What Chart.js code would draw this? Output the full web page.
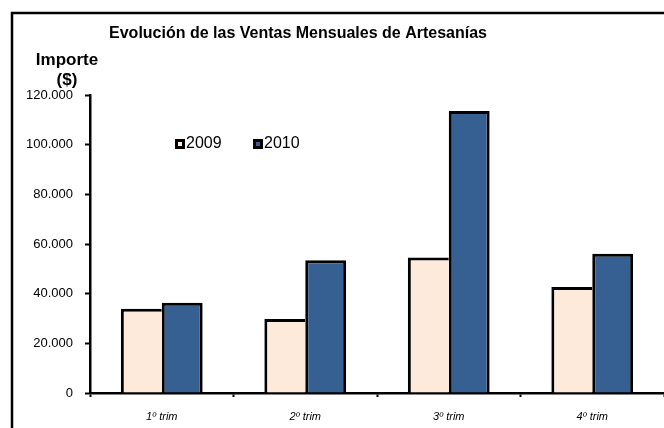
<!DOCTYPE html>
<html>
<head>
<meta charset="utf-8">
<script src="https://cdn.jsdelivr.net/npm/chart.js@4/dist/chart.umd.min.js"></script>
<style>
  html, body { margin: 0; padding: 0; background: #fff; }
  #wrap { width: 664px; height: 428px; }
</style>
</head>
<body>
<div id="wrap"><canvas id="ventas"></canvas></div>
<script>
var trimestres = ['1º trim', '2º trim', '3º trim', '4º trim'];
var ventas2009 = [33900, 29800, 54600, 42700];
var ventas2010 = [36300, 53500, 113600, 56100];
var seriesLabels = ['2009', '2010'];
var yTicks = [0, 20000, 40000, 60000, 80000, 100000, 120000];

var colors = {
  beige: '#FDEADA',
  blue: '#376092',
  black: '#000'
};

function miles(v) {
  return String(v).replace(/\B(?=(\d{3})+(?!\d))/g, '.');
}

// frame, title, axis caption and the floating legend
var decor = {
  id: 'decor',
  beforeDraw: function(chart) {
    var ctx = chart.ctx;
    ctx.save();
    ctx.strokeStyle = colors.black;
    ctx.lineWidth = 2.5;
    ctx.beginPath();
    ctx.moveTo(12, 428);
    ctx.lineTo(12, 13);
    ctx.lineTo(664, 13);
    ctx.stroke();
    ctx.restore();
  },
  afterDraw: function(chart) {
    var ctx = chart.ctx;
    ctx.save();
    ctx.fillStyle = colors.black;
    ctx.textAlign = 'center';
    ctx.textBaseline = 'middle';
    ctx.font = 'bold 16px "Liberation Sans", Arial, sans-serif';
    ctx.fillText('Evolución de las Ventas Mensuales de Artesanías', 298, 34);
    ctx.font = 'bold 17px "Liberation Sans", Arial, sans-serif';
    ctx.fillText('Importe', 67, 60);
    ctx.fillText('($)', 67, 80);

    // legend
    var pos = [175, 253];
    ctx.font = '16px "Liberation Sans", Arial, sans-serif';
    ctx.textAlign = 'left';
    chart.data.datasets.forEach(function(ds, i) {
      var x = pos[i], y = 139;
      ctx.fillStyle = colors.black;
      ctx.fillRect(x, y, 10, 10);
      ctx.fillStyle = ds.backgroundColor;
      ctx.fillRect(x + 3, y + 3, 4, 4);
      ctx.fillStyle = colors.black;
      ctx.fillText(ds.label, x + 11, y + 5);
    });
    ctx.restore();
  }
};

var config = {
  type: 'bar',
  data: {
    labels: trimestres,
    datasets: [{
      label: seriesLabels[0],
      data: ventas2009,
      backgroundColor: colors.beige,
      borderColor: colors.black,
      borderWidth: { left: 3, top: 3, right: 0, bottom: 0 }
    }, {
      label: seriesLabels[1],
      data: ventas2010,
      backgroundColor: colors.blue,
      borderColor: colors.black,
      borderWidth: 3
    }]
  },
  options: {
    responsive: true,
    maintainAspectRatio: false,
    animation: false,
    layout: {
      padding: { top: 95, left: 0, right: 0, bottom: 0 }
    },
    plugins: {
      legend: { display: false },
      title: { display: false },
      tooltip: { enabled: false }
    },
    datasets: {
      bar: { categoryPercentage: 0.57, barPercentage: 1 }
    },
    scales: {
      x: {
        grid: {
          offset: true,
          drawOnChartArea: false,
          tickLength: 4,
          tickWidth: 2,
          tickColor: colors.black
        },
        border: { color: colors.black, width: 2.5 },
        ticks: {
          padding: 13,
          color: colors.black,
          font: { family: '"Liberation Sans", Arial, sans-serif', size: 11, style: 'italic' }
        },
        afterFit: function(scale) { scale.height = 35; }
      },
      y: {
        min: 0,
        max: 120000,
        afterBuildTicks: function(scale) {
          scale.ticks = yTicks.map(function(v) { return { value: v }; });
        },
        grid: {
          drawOnChartArea: false,
          tickLength: 5,
          tickWidth: 2,
          tickColor: colors.black
        },
        border: { color: colors.black, width: 2.5 },
        ticks: {
          padding: 12,
          color: colors.black,
          font: { family: '"Liberation Sans", Arial, sans-serif', size: 13 },
          callback: function(v) { return miles(v); }
        },
        afterFit: function(scale) { scale.width = 90; }
      }
    }
  },
  plugins: [decor]
};

window.onload = function() {
  var ctx = document.getElementById('ventas').getContext('2d');
  window.ventasChart = new Chart(ctx, config);
};
</script>
</body>
</html>
